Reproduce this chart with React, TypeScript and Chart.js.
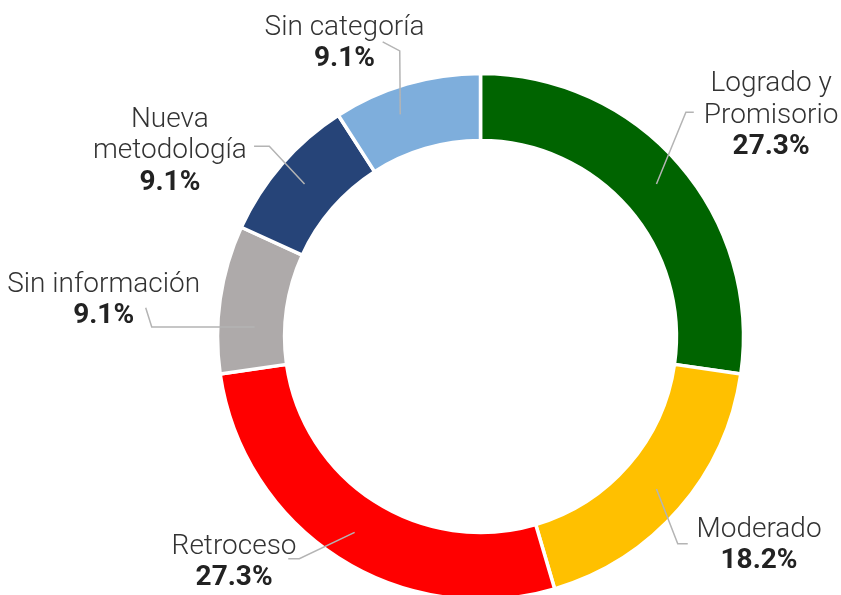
import React, { useEffect, useRef } from "react";
import { Chart, registerables } from "chart.js";

Chart.register(...registerables);

const categories = ["Logrado y Promisorio", "Moderado", "Retroceso", "Sin información", "Nueva metodología", "Sin categoría"];
const labelLines = [["Logrado y", "Promisorio"], ["Moderado"], ["Retroceso"], ["Sin información"], ["Nueva", "metodología"], ["Sin categoría"]];
const percentages = [27.3, 18.2, 27.3, 9.1, 9.1, 9.1];
const colors = ["#006400", "#FFC000", "#FF0000", "#AEAAAA", "#264478", "#7EAEDC"];

// label layout: angle nudge (deg), radial position inside ring (0..1), leader points and text centre in units of outer radius
const labelLayout = [
  { nudge: 0, ring: 0.55, pts: [[0.781, -0.853], [0.811, -0.853]], text: [1.105, -0.851] },
  { nudge: 0, ring: 0.55, pts: [[0.75, 0.788], [0.788, 0.788]], text: [1.059, 0.784] },
  { nudge: 0, ring: 0.55, pts: [[-0.689, 0.845], [-0.731, 0.845]], text: [-0.937, 0.849] },
  { nudge: -5.8, ring: 0.45, pts: [[-1.25, -0.036], [-1.273, -0.109]], text: [-1.433, -0.149] },
  { nudge: 0, ring: 0.55, pts: [[-0.803, -0.723], [-0.861, -0.723]], text: [-1.181, -0.716] },
  { nudge: -3.5, ring: 0.6, pts: [[-0.307, -1.086], [-0.372, -1.12]], text: [-0.517, -1.126] },
];

const FONT = "Roboto, 'Noto Sans', sans-serif";
const FONT_SIZE = 28;
const LINE_H = 31.5;
const CAP_H = 19.9;

const labelPlugin = {
  id: "outerLabels",
  afterDraw(chart: any) {
    const ctx = chart.ctx;
    const meta = chart.getDatasetMeta(0);
    meta.data.forEach((arc: any, i: number) => {
      const p = arc.getProps(["x", "y", "startAngle", "endAngle", "innerRadius", "outerRadius"], true);
      const lay = labelLayout[i];
      const R = p.outerRadius;
      const a = (p.startAngle + p.endAngle) / 2 + (lay.nudge * Math.PI) / 180;
      const rr = p.innerRadius + lay.ring * (p.outerRadius - p.innerRadius);
      ctx.save();
      ctx.strokeStyle = "#b4b4b4";
      ctx.lineWidth = 1.5;
      ctx.beginPath();
      ctx.moveTo(p.x + rr * Math.cos(a), p.y + rr * Math.sin(a));
      lay.pts.forEach((pt) => ctx.lineTo(p.x + pt[0] * R, p.y + pt[1] * R));
      ctx.stroke();

      const lines = [...labelLines[i], percentages[i].toFixed(1) + "%"];
      const cx = p.x + lay.text[0] * R;
      const cy = p.y + lay.text[1] * R;
      const firstBase = cy - ((lines.length - 1) * LINE_H) / 2 + CAP_H / 2;
      ctx.textAlign = "center";
      ctx.textBaseline = "alphabetic";
      lines.forEach((t, k) => {
        const last = k === lines.length - 1;
        ctx.font = (last ? "700 " : "300 ") + FONT_SIZE + "px " + FONT;
        ctx.fillStyle = last ? "#222222" : "#333333";
        ctx.fillText(t, cx, firstBase + k * LINE_H);
      });
      ctx.restore();
    });
  },
};

export default function App() {
  const ref = useRef<HTMLCanvasElement>(null);
  useEffect(() => {
    document.body.style.margin = "0";
    const chart = new Chart(ref.current!, {
      type: "doughnut",
      data: {
        labels: categories,
        datasets: [
          {
            data: percentages,
            backgroundColor: colors,
            borderColor: "#ffffff",
            borderWidth: 3.5,
          },
        ],
      },
      options: {
        responsive: true,
        maintainAspectRatio: false,
        animation: false,
        radius: 263,
        cutout: "74.5%",
        layout: { padding: { left: 120, right: 0, top: 78, bottom: 0 } },
        plugins: { legend: { display: false }, tooltip: { enabled: false } },
      } as any,
      plugins: [labelPlugin],
    });
    return () => chart.destroy();
  }, []);
  return (
    <div style={{ width: 841, height: 595, position: "relative", background: "#fff" }}>
      <canvas ref={ref} />
    </div>
  );
}
